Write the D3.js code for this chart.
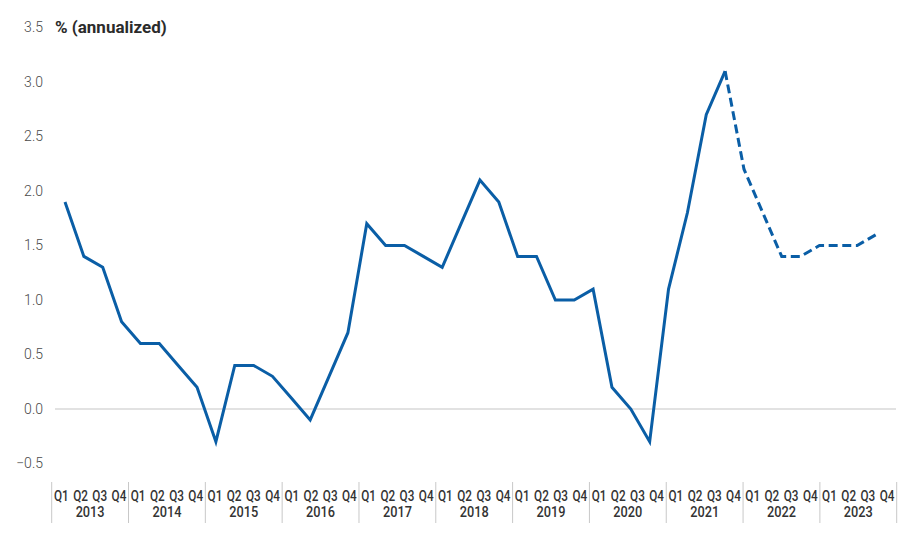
<!DOCTYPE html>
<html>
<head>
<meta charset="utf-8">
<script src="https://cdn.jsdelivr.net/npm/d3@7"></script>
<style>
  html, body { margin: 0; padding: 0; background: #fff; }
  svg { display: block; }
  text { font-family: Roboto, "Noto Sans", sans-serif; }
</style>
</head>
<body>
<svg id="chart" width="916" height="537"></svg>
<script>
const years = ["2013","2014","2015","2016","2017","2018","2019","2020","2021","2022","2023"];
const quarterNames = ["Q1","Q2","Q3","Q4"];
const values = [1.9, 1.4, 1.3, 0.8, 0.6, 0.6, 0.4, 0.2,
                -0.3, 0.4, 0.4, 0.3, 0.1, -0.1, 0.3, 0.7,
                1.7, 1.5, 1.5, 1.4, 1.3, 1.7, 2.1, 1.9,
                1.4, 1.4, 1.0, 1.0, 1.1, 0.2, 0.0, -0.3,
                1.1, 1.8, 2.7, 3.1, 2.2, 1.8, 1.4, 1.4,
                1.5, 1.5, 1.5, 1.6];
const forecastStart = 35; // index of Q4 2021, where the dashed forecast begins
const yTicks = [-0.5, 0.0, 0.5, 1.0, 1.5, 2.0, 2.5, 3.0, 3.5];
const yTitle = "% (annualized)";

const quarters = [];
years.forEach(y => quarterNames.forEach(q => quarters.push(y + " " + q)));
const data = values.map((v, i) => ({ key: quarters[i], value: v, i }));

const svg = d3.select("#chart");
const lineColor = "#0a5ea6";

const y = d3.scaleLinear().domain([-0.5, 3.5]).range([463.5, 27.5]);
const xPt = d3.scalePoint().domain(quarters).range([65, 876]);
const xYear = d3.scaleBand().domain(years).range([51.7, 896.7]).padding(0);
const xQuarter = d3.scaleBand().domain(quarters).range([51.7, 896.7]).padding(0);

// y tick labels
svg.append("g").selectAll("text").data(yTicks).join("text")
  .attr("x", 43)
  .attr("y", d => y(d))
  .attr("dy", "0.35em")
  .attr("text-anchor", "end")
  .attr("font-size", 14)
  .attr("font-weight", 300)
  .attr("fill", "#4a4a4a")
  .text(d => d3.format(".1f")(d));

svg.append("text")
  .attr("x", 55)
  .attr("y", y(3.5))
  .attr("dy", "0.35em")
  .attr("font-size", 17)
  .attr("font-weight", "bold")
  .attr("fill", "#2b2b2b")
  .text(yTitle);

// zero line
svg.append("line")
  .attr("x1", 55).attr("x2", 896)
  .attr("y1", y(0)).attr("y2", y(0))
  .attr("stroke", "#d9d9d9").attr("stroke-width", 1.5);

// category axis
const axisG = svg.append("g");
const seps = years.map(yr => xYear(yr)).concat([xYear.range()[1]]);
axisG.selectAll("line.sep").data(seps).join("line")
  .attr("class", "sep")
  .attr("x1", d => d).attr("x2", d => d)
  .attr("y1", 482).attr("y2", 523)
  .attr("stroke", "#c8c8c8").attr("stroke-width", 1);

axisG.selectAll("text.q").data(quarters).join("text")
  .attr("class", "q")
  .attr("transform", d => `translate(${xQuarter(d) + xQuarter.bandwidth() / 2},500.5) scale(0.84,1)`)
  .attr("text-anchor", "middle")
  .attr("font-size", 14)
  .attr("font-weight", 500)
  .attr("fill", "#333")
  .text(d => d.split(" ")[1]);

axisG.selectAll("text.yr").data(years).join("text")
  .attr("class", "yr")
  .attr("transform", d => `translate(${xYear(d) + xYear.bandwidth() / 2},517) scale(0.88,1)`)
  .attr("text-anchor", "middle")
  .attr("font-size", 14.5)
  .attr("font-weight", 500)
  .attr("fill", "#333")
  .text(d => d);

// lines
const line = d3.line().x(d => xPt(d.key)).y(d => y(d.value));
svg.append("path")
  .datum(data.slice(0, forecastStart + 1))
  .attr("d", line)
  .attr("fill", "none")
  .attr("stroke", lineColor)
  .attr("stroke-width", 3)
  .attr("stroke-linejoin", "miter");

svg.append("path")
  .datum(data.slice(forecastStart))
  .attr("d", line)
  .attr("fill", "none")
  .attr("stroke", lineColor)
  .attr("stroke-width", 3)
  .attr("stroke-dasharray", "9,4.6")
  .attr("stroke-linejoin", "miter");
</script>
</body>
</html>
